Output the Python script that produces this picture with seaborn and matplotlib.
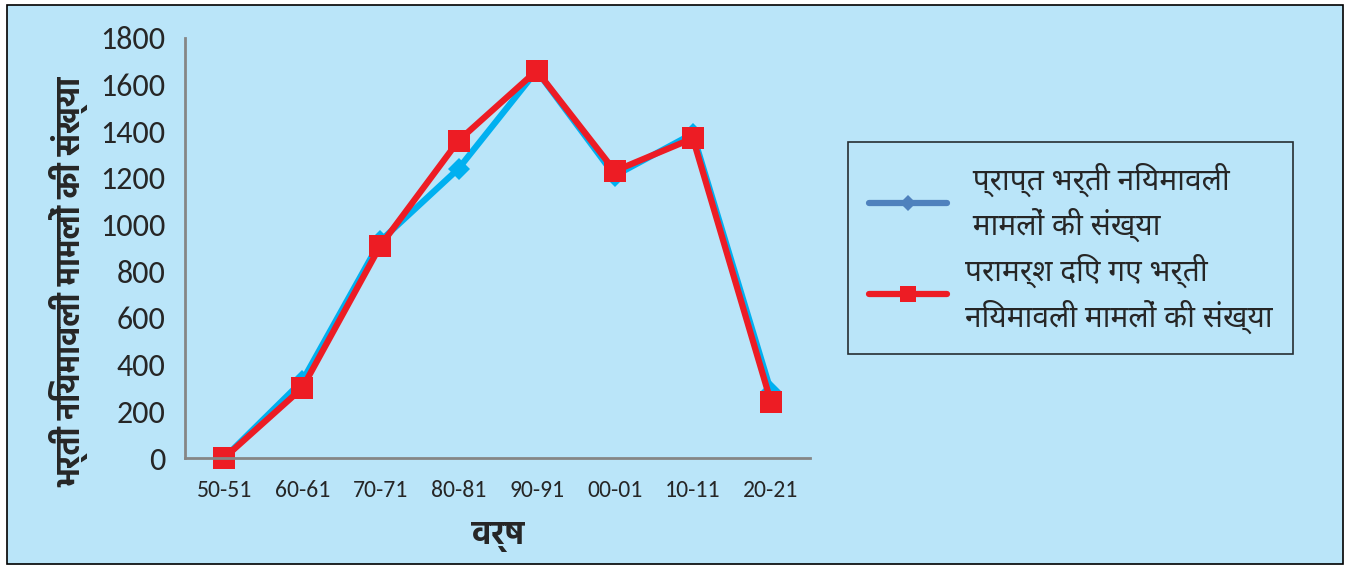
import matplotlib
matplotlib.use("Agg")
import matplotlib.pyplot as plt
from matplotlib.lines import Line2D
from matplotlib.patches import Rectangle
import pandas as pd
import seaborn as sns

years = ["50-51", "60-61", "70-71", "80-81", "90-91", "00-01", "10-11", "20-21"]
received = [0, 330, 930, 1240, 1660, 1210, 1390, 285]
advised = [0, 300, 910, 1360, 1660, 1230, 1370, 240]
yticks = [0, 200, 400, 600, 800, 1000, 1200, 1400, 1600, 1800]

label_received = "प्राप्त भर्ती नियमावली\nमामलों की संख्या"
label_advised = "परामर्श दिए गए भर्ती\nनियमावली मामलों की संख्या"
ylabel = "भर्ती नियमावली मामलों की संख्या"
xlabel = "वर्ष"

bg = "#bae5f9"
deva = ["Noto Sans Devanagari", "Hind", "DejaVu Sans"]
deva_bold = ["Hind", "Mukta", "Noto Sans Devanagari", "DejaVu Sans"]
sns.set_theme(style="white")
plt.rcParams["font.family"] = ["Carlito", "Noto Sans Devanagari", "Hind", "DejaVu Sans"]

df = pd.DataFrame({"year": years, "received": received, "advised": advised})

fig = plt.figure(figsize=(13.51, 5.66), dpi=100)
fig.patch.set_facecolor("white")
fig.patches.append(Rectangle((0.005, 0.003), 0.989, 0.988, transform=fig.transFigure,
                             facecolor=bg, edgecolor="black", linewidth=1.2, zorder=-10))

ax = fig.add_axes([0.137, 0.1908, 0.4626, 0.7421])
ax.set_facecolor(bg)

sns.lineplot(data=df, x="year", y="received", ax=ax, color="#00b0f0", linewidth=4.5,
             marker="D", markersize=11, markeredgewidth=0, sort=False)
sns.lineplot(data=df, x="year", y="advised", ax=ax, color="#ed1c24", linewidth=4.5,
             marker="s", markersize=16, markeredgewidth=0, sort=False)

ax.set_xlim(-0.5, len(years) - 0.5)
ax.set_ylim(0, 1800)
ax.set_yticks(yticks)
ax.set_xticks(range(len(years)))
ax.set_xticklabels(years, fontsize=17)
ax.set_xticks([i - 0.5 for i in range(len(years) + 1)], minor=True)
ax.tick_params(axis="x", which="major", length=0, pad=16)
ax.tick_params(axis="x", which="minor", length=8, width=2, color="#868686", direction="out")
ax.tick_params(axis="y", labelsize=23, length=8, width=2, color="#868686", direction="out", pad=6)
for s in ["top", "right"]:
    ax.spines[s].set_visible(False)
for s in ["left", "bottom"]:
    ax.spines[s].set_color("#868686")
    ax.spines[s].set_linewidth(2)
for ln in ax.lines:
    ln.set_clip_on(False)

ax.set_ylabel(ylabel, fontsize=23, fontweight="bold", family=deva_bold)
ax.yaxis.set_label_coords(-0.155, 0.42)
ax.set_xlabel(xlabel, fontsize=23, fontweight="bold", family=deva_bold, labelpad=15)

handles = [
    Line2D([], [], color="#4f81bd", linewidth=4.5, marker="D", markersize=8,
           markeredgewidth=0, solid_capstyle="round"),
    Line2D([], [], color="#ed1c24", linewidth=4.5, marker="s", markersize=11,
           markeredgewidth=0, solid_capstyle="round"),
]
leg = fig.legend(handles, [" " + label_received.replace("\n", "\n "), label_advised],
                 loc="upper left", bbox_to_anchor=(0.628, 0.749),
                 prop={"family": deva, "size": 21.5},
                 frameon=True, fancybox=False, facecolor=bg, edgecolor="black",
                 handlelength=2.6, handletextpad=0.6, labelspacing=0.4,
                 borderpad=0.7, borderaxespad=0)
leg.get_frame().set_linewidth(1.2)
for t in leg.get_texts():
    t.set_linespacing(1.4)

fig.savefig("out.png", dpi=100, facecolor="white")
